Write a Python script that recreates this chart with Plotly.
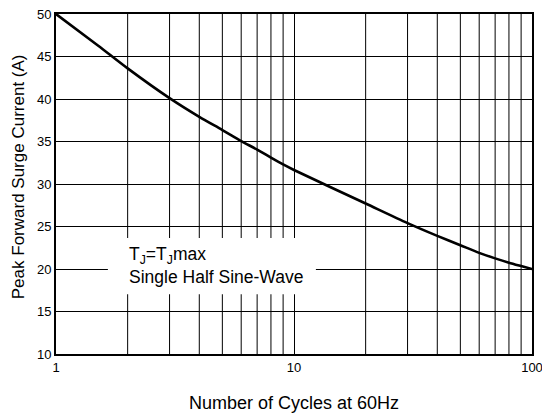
import plotly.graph_objects as go

cycles = [1, 1.5, 2, 3, 4, 5, 6, 7, 8, 9, 10, 20, 30, 40, 50, 60, 70, 80, 90, 100]
current = [50, 46.3, 43.6, 40.1, 37.9, 36.35, 35.05, 34.05, 33.1, 32.3, 31.65,
           27.7, 25.4, 23.9, 22.8, 21.9, 21.25, 20.75, 20.35, 20.0]

y_ticks = [10, 15, 20, 25, 30, 35, 40, 45, 50]
x_ticks = [1, 10, 100]
x_grid = [2, 3, 4, 5, 6, 7, 8, 9, 20, 30, 40, 50, 60, 70, 80, 90]

font_family = "Liberation Sans, Arial, sans-serif"

fig = go.Figure()
fig.add_trace(go.Scatter(x=cycles, y=current, mode="lines",
                         line=dict(color="black", width=2.6, shape="spline", smoothing=0.8),
                         showlegend=False, hoverinfo="skip"))

shapes = []
for gx in x_grid:
    shapes.append(dict(type="line", xref="x", yref="paper", x0=gx, x1=gx, y0=0, y1=1,
                       line=dict(color="black", width=1), layer="below"))
# white box behind annotation text
shapes.append(dict(type="rect", xref="paper", yref="paper", x0=0.109, x1=0.546, y0=0.176, y1=0.341,
                   fillcolor="white", line=dict(width=0), layer="above"))

fig.update_layout(
    width=542, height=417,
    margin=dict(l=56, r=10, t=14, b=63),
    paper_bgcolor="white", plot_bgcolor="white",
    font=dict(family=font_family, color="black", size=13),
    shapes=shapes,
    xaxis=dict(type="log", range=[0, 2], tickvals=x_ticks, ticktext=[str(v) for v in x_ticks],
               showgrid=True, gridcolor="black", gridwidth=1,
               showline=True, linecolor="black", linewidth=2, mirror=True,
               ticks="", zeroline=False, tickfont=dict(size=13), automargin=False,
               ticklabeloverflow="allow"),
    yaxis=dict(range=[10, 50], tickvals=y_ticks, showgrid=True, gridcolor="black", gridwidth=1,
               showline=True, linecolor="black", linewidth=2, mirror=True,
               ticks="", zeroline=False, tickfont=dict(size=13), automargin=False,
               ticklabeloverflow="allow"),
    annotations=[
        dict(xref="paper", yref="paper", x=0.5, y=-0.144, xanchor="center", yanchor="middle",
             text="Number of Cycles at 60Hz", showarrow=False, font=dict(size=18)),
        dict(xref="paper", yref="paper", x=-0.0798, y=0.52, xanchor="center", yanchor="middle",
             textangle=-90, text="Peak Forward Surge Current (A)", showarrow=False,
             font=dict(size=17)),
        dict(xref="paper", yref="paper", x=0.149, y=0.33, xanchor="left", yanchor="top",
             align="left", showarrow=False, font=dict(size=17.5),
             text="T<sub>J</sub>=T<sub>J</sub>max<br>Single Half Sine-Wave"),
    ],
)

fig.write_html("out.html", config={"displayModeBar": False},
               post_script="document.body.style.margin='0';document.body.style.overflow='hidden';")
